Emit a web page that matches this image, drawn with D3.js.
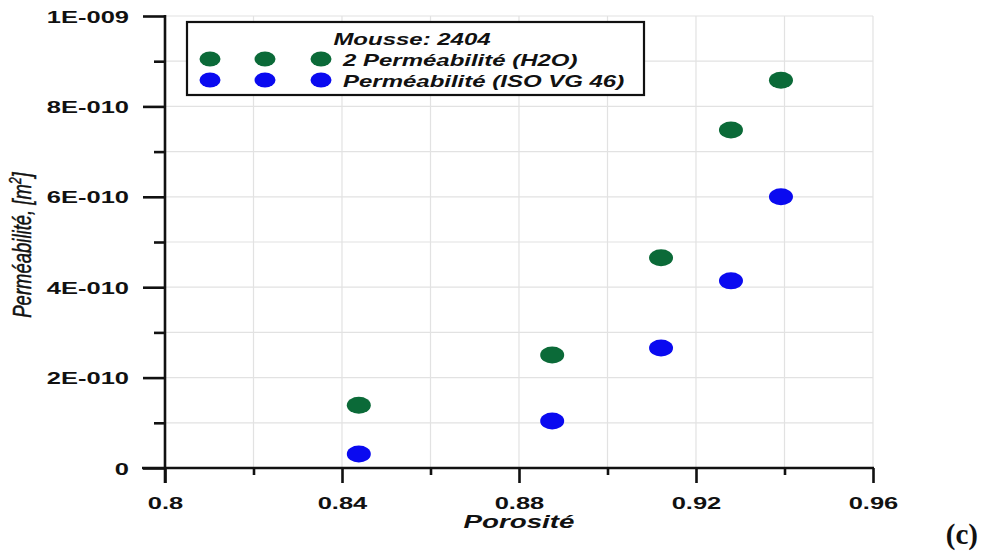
<!DOCTYPE html>
<html>
<head>
<meta charset="utf-8">
<script src="https://cdn.jsdelivr.net/npm/d3@7"></script>
<style>
  html, body { margin: 0; padding: 0; background: #fff; }
  svg { display: block; font-family: "Liberation Sans", Arial, sans-serif; }
</style>
</head>
<body>
<svg id="chart" width="982" height="551"></svg>
<script>
// Porosity of the foam samples
const porosity = [0.8438, 0.8875, 0.9121, 0.9279, 0.9392];
// Permeability measured with water (m²)
const permH2O = [1.39e-10, 2.50e-10, 4.65e-10, 7.48e-10, 8.58e-10];
// Permeability measured with ISO VG 46 oil (m²)
const permISO = [0.31e-10, 1.04e-10, 2.655e-10, 4.14e-10, 6.0e-10];

const xMajor = [0.8, 0.84, 0.88, 0.92, 0.96];
const xMajorLabels = ["0.8", "0.84", "0.88", "0.92", "0.96"];
const xMinor = [0.82, 0.86, 0.90, 0.94];
const yMajor = [0, 2e-10, 4e-10, 6e-10, 8e-10, 1e-9];
const yMajorLabels = ["0", "2E-010", "4E-010", "6E-010", "8E-010", "1E-009"];
const yMinor = [1e-10, 3e-10, 5e-10, 7e-10, 9e-10];
const xGrid = [0.8, 0.82, 0.84, 0.86, 0.88, 0.90, 0.92, 0.94, 0.96];
const yGrid = [1e-10, 2e-10, 3e-10, 4e-10, 5e-10, 6e-10, 7e-10, 8e-10, 9e-10, 1e-9];

const seriesNames = ["2 Perméabilité (H2O)", "Perméabilité (ISO VG 46)"];
const seriesColors = ["#0b6a38", "#0a0af0"];
const legendTitle = "Mousse: 2404";

const svg = d3.select("#chart");
const SX = 1.5; // horizontal stretch of the lettering

const x = d3.scaleLinear().domain([0.8, 0.96]).range([165, 873]);
const y = d3.scaleLinear().domain([0, 1e-9]).range([468, 16]);

// grid
const grid = svg.append("g").attr("stroke", "#e2e2e2").attr("stroke-width", 1.2);
grid.selectAll("line.gx").data(xGrid).join("line")
  .attr("x1", d => x(d)).attr("x2", d => x(d))
  .attr("y1", y(1e-9)).attr("y2", y(0));
grid.selectAll("line.gy").data(yGrid).join("line")
  .attr("x1", x(0.8)).attr("x2", x(0.96))
  .attr("y1", d => y(d)).attr("y2", d => y(d));

function styleAxis(g) {
  g.attr("font-family", null);
  g.selectAll("path.domain").remove();
  g.selectAll("line").attr("stroke", "#111").attr("stroke-width", 2.6);
}

// y axis
const yAxisMajor = d3.axisLeft(y).tickValues(yMajor)
  .tickFormat((d, i) => yMajorLabels[i]).tickSize(22).tickPadding(14);
const gy = svg.append("g").attr("transform", `translate(${x(0.8)},0)`).call(yAxisMajor);
styleAxis(gy);
gy.selectAll("text")
  .attr("x", -36 / SX).attr("dy", "0.36em")
  .attr("transform", `scale(${SX},1)`)
  .attr("font-size", 17).attr("font-weight", "bold").attr("fill", "#111");
const gyMinor = svg.append("g").attr("transform", `translate(${x(0.8)},0)`)
  .call(d3.axisLeft(y).tickValues(yMinor).tickFormat("").tickSize(11));
styleAxis(gyMinor);

// x axis
const xAxisMajor = d3.axisBottom(x).tickValues(xMajor)
  .tickFormat((d, i) => xMajorLabels[i]).tickSize(15).tickPadding(14);
const gx = svg.append("g").attr("transform", `translate(0,${y(0)})`).call(xAxisMajor);
styleAxis(gx);
gx.selectAll("text")
  .attr("transform", `scale(${SX},1)`)
  .attr("font-size", 17).attr("font-weight", "bold").attr("fill", "#111");
const gxMinor = svg.append("g").attr("transform", `translate(0,${y(0)})`)
  .call(d3.axisBottom(x).tickValues(xMinor).tickFormat("").tickSize(7));
styleAxis(gxMinor);

// axis lines
svg.append("line").attr("x1", x(0.8)).attr("x2", x(0.8))
  .attr("y1", y(1e-9) - 1).attr("y2", y(0) + 15)
  .attr("stroke", "#111").attr("stroke-width", 2.6);
svg.append("line").attr("x1", x(0.8) - 23).attr("x2", x(0.96) + 1)
  .attr("y1", y(0)).attr("y2", y(0))
  .attr("stroke", "#111").attr("stroke-width", 2.6);

// axis titles
svg.append("text")
  .attr("transform", `translate(519,528) scale(${SX},1)`)
  .attr("text-anchor", "middle").attr("font-size", 18.5)
  .attr("font-weight", "bold").attr("font-style", "italic").attr("fill", "#111")
  .text("Porosité");

const yt = svg.append("text")
  .attr("transform", "translate(31,245) rotate(-90) scale(1,1.4)")
  .attr("text-anchor", "middle").attr("font-size", 18.5)
  .attr("font-style", "italic").attr("fill", "#111")
  .attr("stroke", "#111").attr("stroke-width", 0.35);
yt.append("tspan").text("Perméabilité, [m");
yt.append("tspan").attr("font-size", 12).attr("dy", -7).text("2");
yt.append("tspan").attr("dy", 7).text("]");

// data points
const series = [permH2O, permISO];
series.forEach((vals, s) => {
  svg.append("g").selectAll("ellipse").data(vals).join("ellipse")
    .attr("cx", (d, i) => x(porosity[i]))
    .attr("cy", d => y(d))
    .attr("rx", 12).attr("ry", 8.5)
    .attr("fill", seriesColors[s]);
});

// legend
const lg = svg.append("g");
lg.append("rect").attr("x", 187).attr("y", 22).attr("width", 457).attr("height", 73)
  .attr("fill", "#fff").attr("stroke", "#111").attr("stroke-width", 2.2);
lg.append("text")
  .attr("transform", `translate(412,45) scale(${SX},1)`)
  .attr("text-anchor", "middle").attr("font-size", 16)
  .attr("font-weight", "bold").attr("font-style", "italic").attr("fill", "#111")
  .text(legendTitle);
const rowY = [59, 80];
const dotX = [210, 265, 321];
seriesNames.forEach((name, s) => {
  lg.selectAll(null).data(dotX).join("ellipse")
    .attr("cx", d => d).attr("cy", rowY[s])
    .attr("rx", 10.5).attr("ry", 7.5)
    .attr("fill", seriesColors[s]);
  lg.append("text")
    .attr("transform", `translate(343,${rowY[s] + 7}) scale(${SX},1)`)
    .attr("font-size", 16)
    .attr("font-weight", "bold").attr("font-style", "italic").attr("fill", "#111")
    .text(name);
});

// panel tag
svg.append("text")
  .attr("x", 978).attr("y", 544).attr("text-anchor", "end")
  .style("font-family", "'Liberation Serif', 'DejaVu Serif', serif")
  .attr("font-size", 29).attr("font-weight", "bold").attr("fill", "#111")
  .text("(c)");
</script>
</body>
</html>
